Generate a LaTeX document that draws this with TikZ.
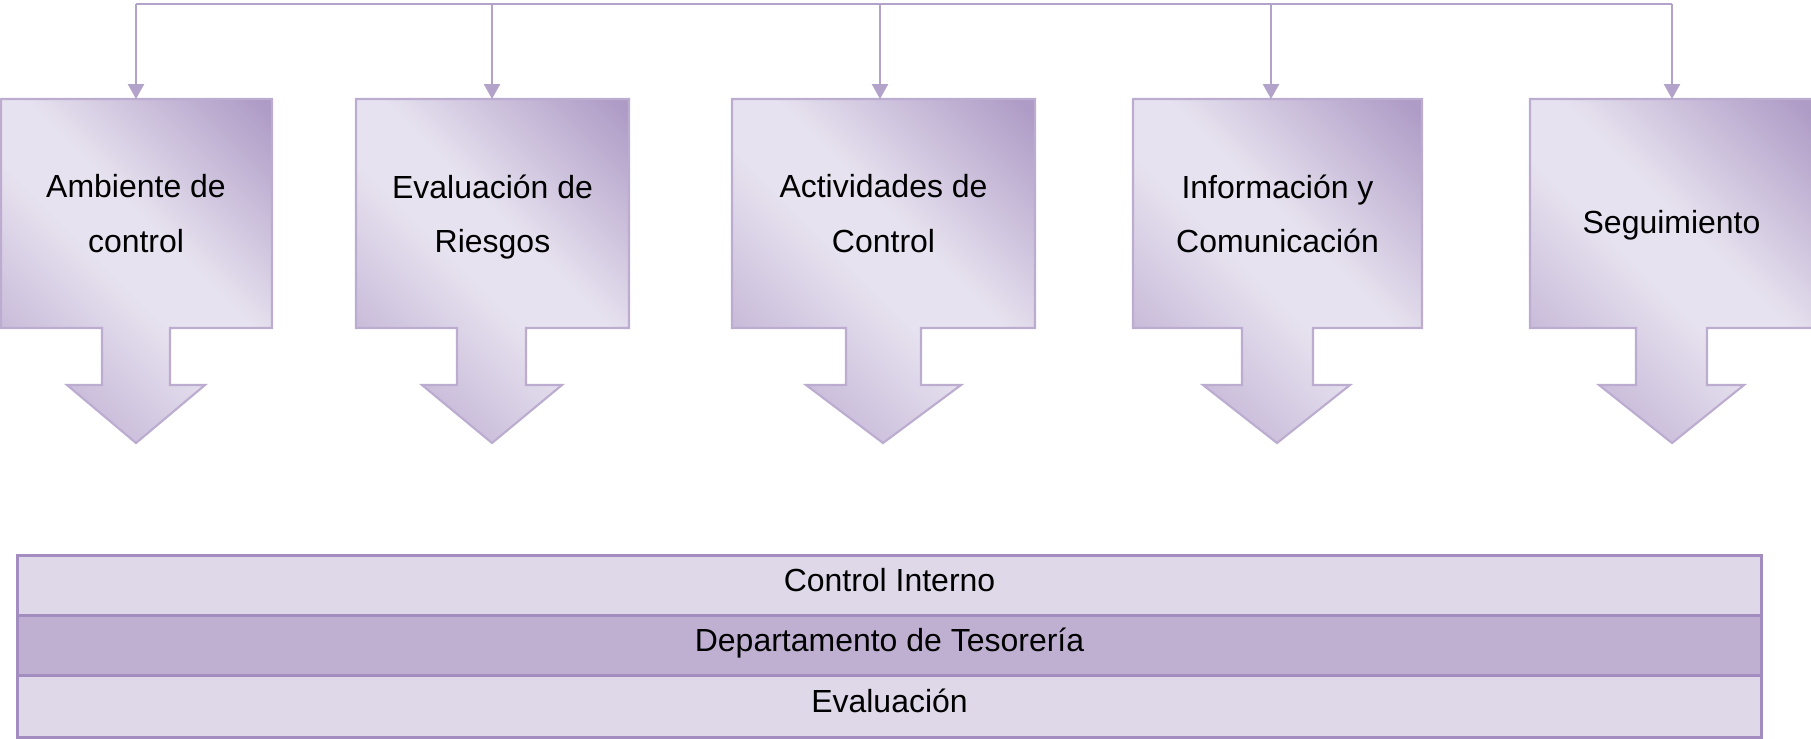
\documentclass[tikz,border=0pt]{standalone}
\usepackage{fontspec}
\setmainfont{Liberation Sans}
\usetikzlibrary{arrows.meta}

\definecolor{lila}{HTML}{B3A3CB}
\definecolor{liladark}{HTML}{AE9BC6}
\definecolor{lilamid}{HTML}{C9BCDA}
\definecolor{lilalight}{HTML}{E7E2EF}
\definecolor{barline}{HTML}{A38CC0}
\definecolor{barlight}{HTML}{DFD8E9}
\definecolor{bardark}{HTML}{BFB0D2}

\pgfdeclareverticalshading{calloutfill}{100bp}{color(0bp)=(lilamid); color(28bp)=(lilamid);
  color(47bp)=(lilalight); color(57bp)=(lilalight); color(84bp)=(liladark); color(100bp)=(liladark)}

\begin{document}
\begin{tikzpicture}[x=0.02cm,y=-0.02cm,
  callout/.style={draw=lila!90, line width=1.2pt, line join=miter,
    shading=calloutfill, shading angle=-45},
  box/.style={inner sep=0pt, outer sep=0pt, minimum height=4.58cm,
    align=center, text depth=0pt, font=\fontsize{18.2pt}{31pt}\selectfont},
  bar/.style={draw=barline, line width=1.7pt, inner sep=0pt,
    minimum width=34.9cm, minimum height=1.2cm, text height=0.38cm,
    text depth=0.14cm, font=\fontsize{18.2pt}{22pt}\selectfont},
  link/.style={draw=lila, line width=1.4pt},
  tip/.style={-{Triangle[width=0.32cm,length=0.3cm]}}]

 \useasboundingbox (0,0) rectangle (1811,738);

 % callout shapes
 \path[callout] (1,99) -- (272,99) -- (272,328) -- (170,328) -- (170,385) -- (205,385)
   -- (136,443) -- (67,385) -- (102,385) -- (102,328) -- (1,328) -- cycle;
 \path[callout] (356,99) -- (629,99) -- (629,328) -- (526,328) -- (526,385) -- (562,385)
   -- (492,443) -- (422,385) -- (457,385) -- (457,328) -- (356,328) -- cycle;
 \path[callout] (732,99) -- (1035,99) -- (1035,328) -- (921,328) -- (921,385) -- (961,385)
   -- (883,443) -- (806,385) -- (846,385) -- (846,328) -- (732,328) -- cycle;
 \path[callout] (1133,99) -- (1422,99) -- (1422,328) -- (1313,328) -- (1313,385) -- (1350,385)
   -- (1277,443) -- (1203,385) -- (1242,385) -- (1242,328) -- (1133,328) -- cycle;
 \path[callout] (1530,99) -- (1813,99) -- (1813,328) -- (1707,328) -- (1707,385) -- (1744,385)
   -- (1672,443) -- (1599,385) -- (1636,385) -- (1636,328) -- (1530,328) -- cycle;

 \node[box, minimum width=5.44cm] (amb) at (136,213.5) {Ambiente de\\control};
 \node[box, minimum width=5.46cm] (eval) at (492.5,213.5) {Evaluación de\\Riesgos};
 \node[box, minimum width=6.06cm] (act) at (883.5,213.5) {Actividades de\\Control};
 \node[box, minimum width=5.78cm] (info) at (1277.5,213.5) {Información y\\Comunicación};
 \node[box, minimum width=5.66cm, text height=0.78cm] (seg) at (1671.5,213.5) {Seguimiento};

 \coordinate (top1) at (136,4);
 \coordinate (top2) at (492,4);
 \coordinate (top3) at (880,4);
 \coordinate (top4) at (1271,4);
 \coordinate (top5) at (1672,4);

 \draw[link] (top1) -- (top5);
 \draw[link, tip] (top1) -- (top1 |- amb.north);
 \draw[link, tip] (top2) -- (top2 |- eval.north);
 \draw[link, tip] (top3) -- (top3 |- act.north);
 \draw[link, tip] (top4) -- (top4 |- info.north);
 \draw[link, tip] (top5) -- (top5 |- seg.north);

 % bars
 \node[bar, fill=barlight] (ci) at (889.5,585) {Control Interno};
 \node[bar, fill=bardark] (dt) at (889.5,645) {Departamento de Tesorería};
 \node[bar, fill=barlight, minimum height=1.24cm] (ev) at (889.5,706) {Evaluación};

\end{tikzpicture}
\end{document}
